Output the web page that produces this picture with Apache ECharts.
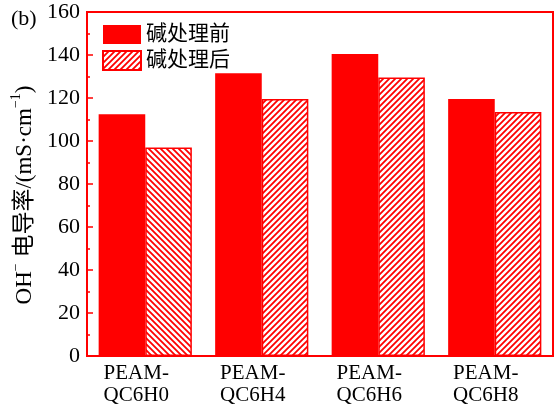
<!DOCTYPE html>
<html>
<head>
<meta charset="utf-8">
<script src="https://cdn.jsdelivr.net/npm/echarts@6/dist/echarts.min.js"></script>
<style>
  html, body { margin: 0; padding: 0; background: #fff; }
  #chart { width: 558px; height: 405px; }
</style>
</head>
<body>
<div id="chart"></div>
<script>
// Samples and OH- conductivity (mS/cm) before / after alkali treatment
const categories = ['PEAM-\nQC6H0', 'PEAM-\nQC6H4', 'PEAM-\nQC6H6', 'PEAM-\nQC6H8'];
const beforeValues = [112.5, 131.5, 140.5, 119.5];
const afterValues = [97, 119.5, 129.5, 113.5];
const seriesNames = ['碱处理前', '碱处理后'];
const yTicks = { min: 0, max: 160, interval: 20 };

const RED = '#ff0000';
const SERIF = "'Liberation Serif', 'Noto Sans CJK SC', serif";

// Diagonal hatch tile; dir = 1 for "///", -1 for "\\\"
function hatch(dir) {
  const s = 6;
  const c = document.createElement('canvas');
  c.width = s; c.height = s;
  const g = c.getContext('2d');
  g.fillStyle = '#fff';
  g.fillRect(0, 0, s, s);
  g.strokeStyle = RED;
  g.lineWidth = 1.8;
  g.beginPath();
  if (dir > 0) {
    g.moveTo(0, s); g.lineTo(s, 0);
    g.moveTo(-1, 1); g.lineTo(1, -1);
    g.moveTo(s - 1, s + 1); g.lineTo(s + 1, s - 1);
  } else {
    g.moveTo(0, 0); g.lineTo(s, s);
    g.moveTo(-1, s - 1); g.lineTo(1, s + 1);
    g.moveTo(s - 1, -1); g.lineTo(s + 1, 1);
  }
  g.stroke();
  return { image: c, repeat: 'repeat' };
}
const hatchFwd = hatch(1);
const hatchBack = hatch(-1);

const chart = echarts.init(document.getElementById('chart'), null, { renderer: 'canvas' });

chart.setOption({
  animation: false,
  backgroundColor: '#fff',
  grid: {
    left: 87, right: 5, top: 12, bottom: 49,
    outerBoundsMode: 'none',
    containLabel: false,
    show: true, borderColor: RED, borderWidth: 2, backgroundColor: 'transparent'
  },
  graphic: [{
    type: 'text', left: 11, top: 8,
    style: { text: '(b)', fontSize: 22, fontFamily: SERIF, fill: '#000' }
  }],
  legend: {
    orient: 'vertical',
    left: 97, top: 19,
    icon: 'rect',
    itemWidth: 38, itemHeight: 19, itemGap: 5,
    textStyle: { fontSize: 21, fontFamily: SERIF, color: '#000' },
    data: seriesNames
  },
  xAxis: {
    type: 'category',
    data: categories,
    axisLine: { lineStyle: { color: RED, width: 2 } },
    axisTick: { show: false },
    axisLabel: {
      color: '#000', fontSize: 21, fontFamily: SERIF,
      lineHeight: 22, margin: 6, padding: [0, 18, 0, 0]
    }
  },
  yAxis: {
    type: 'value',
    min: yTicks.min, max: yTicks.max, interval: yTicks.interval,
    name: '{a|OH}{s|−}{a| 电导率/(mS·cm}{s|−1}{a|)}',
    nameLocation: 'middle',
    nameGap: 46,
    nameTextStyle: {
      padding: [0, 22, 0, 0],
      rich: {
        a: { fontSize: 23, fontFamily: SERIF, color: '#000', lineHeight: 27, verticalAlign: 'bottom' },
        s: { fontSize: 14, fontFamily: SERIF, color: '#000', lineHeight: 27, verticalAlign: 'top' }
      }
    },
    splitLine: { show: false },
    axisLine: { show: true, lineStyle: { color: RED, width: 2 } },
    axisTick: { show: true, inside: true, length: 6, lineStyle: { color: RED, width: 1.5 } },
    minorTick: { show: true, splitNumber: 2, length: 3, lineStyle: { color: RED, width: 1.5 } },
    axisLabel: { color: '#000', fontSize: 22, fontFamily: SERIF, margin: 7 }
  },
  series: [
    {
      name: seriesNames[0],
      type: 'bar',
      data: beforeValues,
      barGap: '0%',
      barCategoryGap: '20%',
      itemStyle: { color: RED }
    },
    {
      name: seriesNames[1],
      type: 'bar',
      data: afterValues.map((v, i) => i === 0
        ? { value: v, itemStyle: { color: hatchBack } }
        : v),
      barGap: '0%',
      barCategoryGap: '20%',
      itemStyle: { color: hatchFwd, borderColor: RED, borderWidth: 1.5 }
    }
  ]
});
</script>
</body>
</html>
